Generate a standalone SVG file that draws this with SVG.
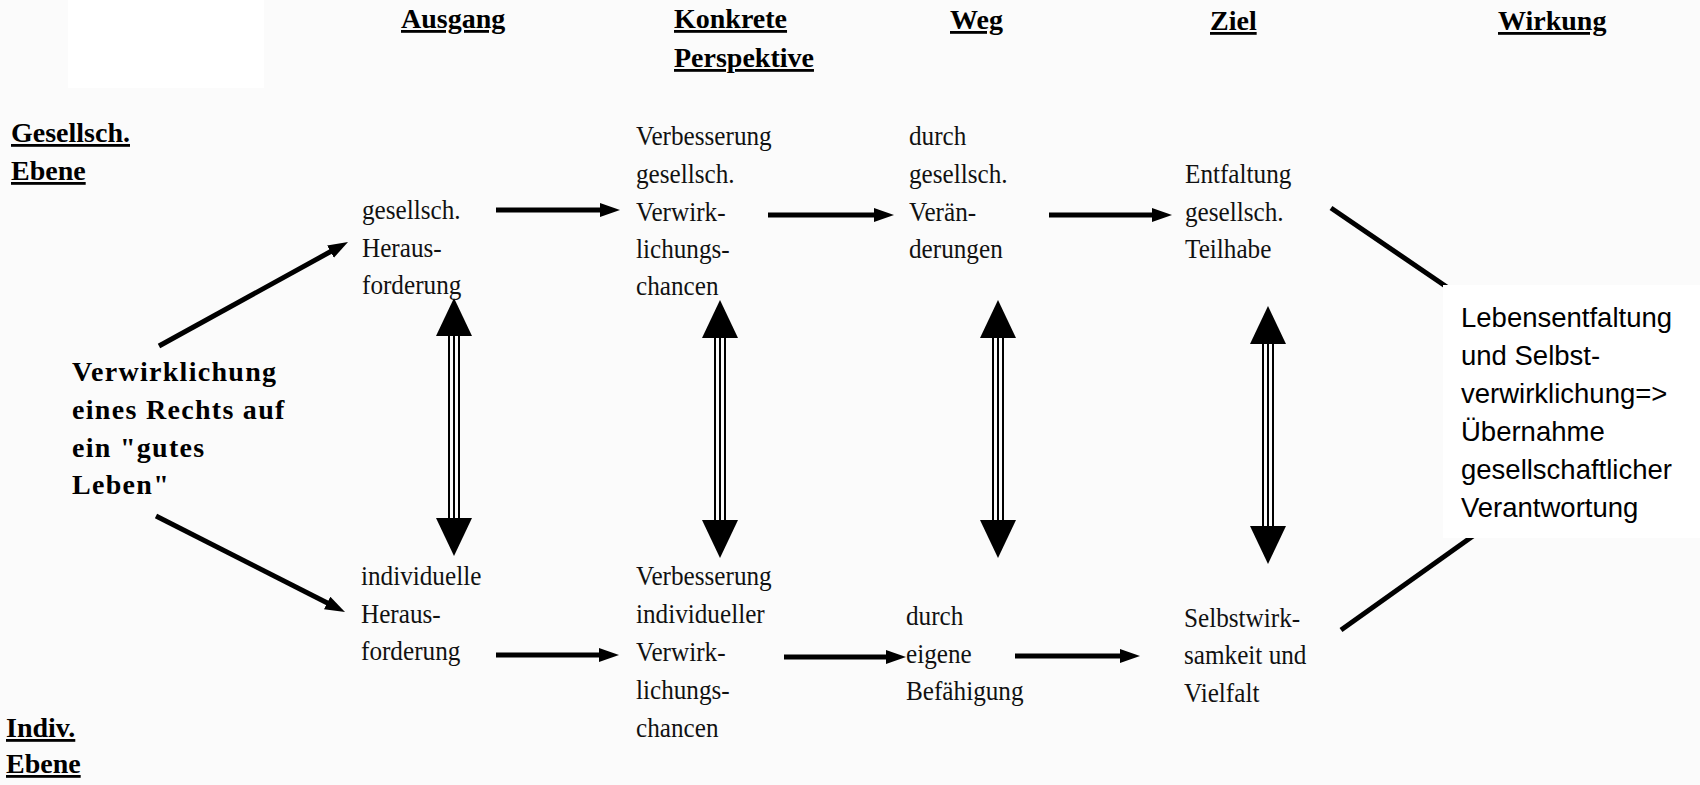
<svg xmlns="http://www.w3.org/2000/svg" xmlns:xlink="http://www.w3.org/1999/xlink" width="1700" height="785" viewBox="0 0 1700 785">
<style>
.hd{font-family:"Liberation Serif",serif;font-weight:bold;font-size:28px;text-decoration:underline;fill:#000}
.tx{font-family:"Liberation Serif",serif;font-size:28px;fill:#111}
.bt{font-family:"Liberation Serif",serif;font-weight:bold;font-size:28px;letter-spacing:1.3px;fill:#000}
.sn{font-family:"Liberation Sans",sans-serif;font-size:27.5px;fill:#000}
.ln{stroke:#000;stroke-width:5;fill:none}
.sh{stroke:#000;stroke-width:2;fill:none}
</style>
<defs>
<marker id="ah" markerUnits="userSpaceOnUse" markerWidth="22" markerHeight="16" refX="8" refY="7" orient="auto">
<path d="M0,0 L20,7 L0,14 z" fill="#000"/>
</marker>
<g id="dbl">
<path d="M0,0 L-18,38 L18,38 z" fill="#000"/>
<path d="M0,258 L-18,220 L18,220 z" fill="#000"/>
<line class="sh" x1="-5" y1="36" x2="-5" y2="222"/>
<line class="sh" x1="0" y1="36" x2="0" y2="222"/>
<line class="sh" x1="5" y1="36" x2="5" y2="222"/>
</g>
</defs>
<rect x="0" y="0" width="1700" height="785" fill="#fbfbfb"/>
<rect x="68" y="0" width="196" height="88" fill="#ffffff"/>

<g id="headers">
<text class="hd" x="401" y="28">Ausgang</text>
<text class="hd" x="674" y="28">Konkrete</text>
<text class="hd" x="674" y="67">Perspektive</text>
<text class="hd" x="950" y="29">Weg</text>
<text class="hd" x="1210" y="30">Ziel</text>
<text class="hd" x="1498" y="30">Wirkung</text>
<text class="hd" x="11" y="142">Gesellsch.</text>
<text class="hd" x="11" y="180">Ebene</text>
<text class="hd" x="6" y="737">Indiv.</text>
<text class="hd" x="6" y="773">Ebene</text>
</g>

<g id="connectors">
<line class="ln" x1="496" y1="210" x2="608" y2="210" marker-end="url(#ah)"/>
<line class="ln" x1="768" y1="215" x2="882" y2="215" marker-end="url(#ah)"/>
<line class="ln" x1="1049" y1="215" x2="1160" y2="215" marker-end="url(#ah)"/>
<line class="ln" x1="496" y1="655" x2="607" y2="655" marker-end="url(#ah)"/>
<line class="ln" x1="784" y1="657" x2="894" y2="657" marker-end="url(#ah)"/>
<line class="ln" x1="1015" y1="656" x2="1128" y2="656" marker-end="url(#ah)"/>
<line class="ln" x1="159" y1="346" x2="337.5" y2="247.8" marker-end="url(#ah)"/>
<line class="ln" x1="156" y1="516" x2="334.3" y2="606.6" marker-end="url(#ah)"/>
<line class="ln" x1="1331" y1="208" x2="1460" y2="296"/>
<line class="ln" x1="1341" y1="630" x2="1480" y2="531"/>
<use xlink:href="#dbl" href="#dbl" transform="translate(454,298)"/>
<use xlink:href="#dbl" href="#dbl" transform="translate(720,300)"/>
<use xlink:href="#dbl" href="#dbl" transform="translate(998,300)"/>
<use xlink:href="#dbl" href="#dbl" transform="translate(1268,306)"/>
</g>

<g id="n_root">
<text class="bt" x="72" y="381">Verwirklichung</text>
<text class="bt" x="72" y="419">eines Rechts auf</text>
<text class="bt" x="72" y="457">ein "gutes</text>
<text class="bt" x="72" y="494">Leben"</text>
</g>
<g id="n_gesHeraus" transform="translate(362,0) scale(0.9,1)">
<text class="tx" x="0" y="219">gesellsch.</text>
<text class="tx" x="0" y="257">Heraus-</text>
<text class="tx" x="0" y="294">forderung</text>
</g>
<g id="n_verbGes" transform="translate(636,0) scale(0.9,1)">
<text class="tx" x="0" y="145">Verbesserung</text>
<text class="tx" x="0" y="183">gesellsch.</text>
<text class="tx" x="0" y="221">Verwirk-</text>
<text class="tx" x="0" y="258">lichungs-</text>
<text class="tx" x="0" y="295">chancen</text>
</g>
<g id="n_durchGes" transform="translate(909,0) scale(0.9,1)">
<text class="tx" x="0" y="145">durch</text>
<text class="tx" x="0" y="183">gesellsch.</text>
<text class="tx" x="0" y="221">Verän-</text>
<text class="tx" x="0" y="258">derungen</text>
</g>
<g id="n_entfaltung" transform="translate(1185,0) scale(0.9,1)">
<text class="tx" x="0" y="183">Entfaltung</text>
<text class="tx" x="0" y="221">gesellsch.</text>
<text class="tx" x="0" y="258">Teilhabe</text>
</g>
<g id="n_indHeraus" transform="translate(361,0) scale(0.9,1)">
<text class="tx" x="0" y="585">individuelle</text>
<text class="tx" x="0" y="623">Heraus-</text>
<text class="tx" x="0" y="660">forderung</text>
</g>
<g id="n_verbInd" transform="translate(636,0) scale(0.9,1)">
<text class="tx" x="0" y="585">Verbesserung</text>
<text class="tx" x="0" y="623">individueller</text>
<text class="tx" x="0" y="661">Verwirk-</text>
<text class="tx" x="0" y="699">lichungs-</text>
<text class="tx" x="0" y="737">chancen</text>
</g>
<g id="n_durchEig" transform="translate(906,0) scale(0.9,1)">
<text class="tx" x="0" y="625">durch</text>
<text class="tx" x="0" y="663">eigene</text>
<text class="tx" x="0" y="700">Befähigung</text>
</g>
<g id="n_selbst" transform="translate(1184,0) scale(0.9,1)">
<text class="tx" x="0" y="627">Selbstwirk-</text>
<text class="tx" x="0" y="664">samkeit und</text>
<text class="tx" x="0" y="702">Vielfalt</text>
</g>
<g id="n_wirkung">
<rect x="1443" y="285" width="257" height="253" fill="#ffffff"/>
<text class="sn" x="1461" y="327">Lebensentfaltung</text>
<text class="sn" x="1461" y="365">und Selbst-</text>
<text class="sn" x="1461" y="403">verwirklichung=&gt;</text>
<text class="sn" x="1461" y="441">Übernahme</text>
<text class="sn" x="1461" y="479">gesellschaftlicher</text>
<text class="sn" x="1461" y="517">Verantwortung</text>
</g>
</svg>
